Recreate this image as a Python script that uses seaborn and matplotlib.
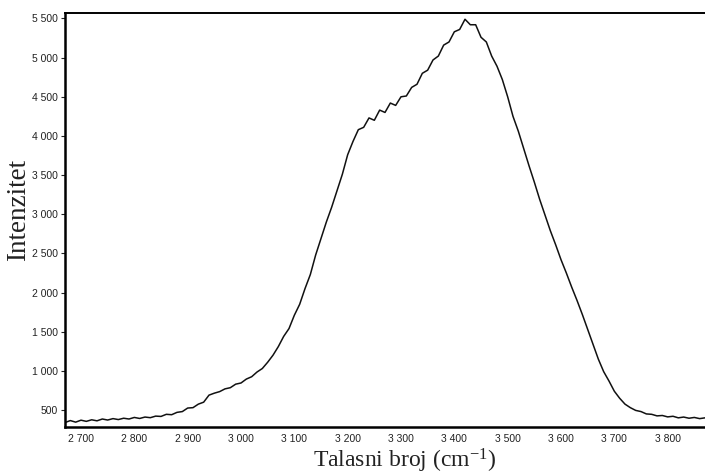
import numpy as np
import pandas as pd
import matplotlib
matplotlib.use("Agg")
import matplotlib.pyplot as plt
from matplotlib.ticker import FuncFormatter
import seaborn as sns

# Data (wavenumber, intensity)
wavenumber = list(range(2670, 3871, 10))
intensity = [
    340, 365, 345, 370, 355, 375, 362, 385, 372, 390,
    378, 395, 385, 405, 392, 410, 402, 422, 418, 445,
    440, 470, 480, 525, 530, 575, 600, 690, 715, 735,
    770, 785, 830, 845, 895, 925, 985, 1030, 1110, 1200,
    1310, 1440, 1540, 1710, 1850, 2050, 2230, 2480, 2690, 2900,
    3090, 3300, 3510, 3760, 3930, 4080, 4110, 4230, 4200, 4330,
    4300, 4420, 4390, 4500, 4510, 4620, 4660, 4800, 4840, 4970,
    5020, 5160, 5200, 5330, 5360, 5490, 5420, 5420, 5260, 5200,
    5020, 4890, 4720, 4500, 4250, 4060, 3840, 3620, 3410, 3190,
    2990, 2790, 2610, 2420, 2250, 2070, 1900, 1720, 1530, 1340,
    1150, 990, 870, 740, 650, 575, 530, 495, 480, 450,
    445, 425, 430, 412, 420, 400, 410, 395, 405, 390,
    400,
]
assert len(wavenumber) == len(intensity)

x_ticks = [2700, 2800, 2900, 3000, 3100, 3200, 3300, 3400, 3500, 3600, 3700, 3800]
y_ticks = [500, 1000, 1500, 2000, 2500, 3000, 3500, 4000, 4500, 5000, 5500]

df = pd.DataFrame({"wavenumber": wavenumber, "intensity": intensity})

sns.set_theme(style="white")
plt.rcParams["font.family"] = ["Liberation Sans", "DejaVu Sans"]
plt.rcParams["mathtext.fontset"] = "custom"
plt.rcParams["mathtext.rm"] = "Liberation Serif"
plt.rcParams["mathtext.it"] = "Liberation Serif:italic"

fig = plt.figure(figsize=(7.05, 4.74), dpi=100)
ax = fig.add_axes([65 / 705, 1 - 427 / 474, 640 / 705, 414 / 474])

sns.lineplot(data=df, x="wavenumber", y="intensity", ax=ax,
             color="#111111", linewidth=1.1)

ax.set_xlim(2670, 3870)
ax.set_ylim(283, 5570)
ax.set_xticks(x_ticks)
ax.set_yticks(y_ticks)

fmt = FuncFormatter(lambda v, p: f"{int(v):,}".replace(",", " "))
ax.xaxis.set_major_formatter(fmt)
ax.yaxis.set_major_formatter(fmt)

ax.tick_params(axis="y", which="major", direction="out", length=3, width=0.8,
               labelsize=7.5, pad=2, left=True, colors="#222222")
ax.tick_params(axis="x", which="major", length=0, labelsize=7.5, pad=5,
               colors="#222222")

for side in ["left", "bottom"]:
    ax.spines[side].set_linewidth(1.8)
    ax.spines[side].set_color("black")
ax.spines["top"].set_linewidth(1.4)
ax.spines["top"].set_color("black")
ax.spines["right"].set_visible(False)

ax.set_xlabel("Talasni broj (cm$^{-1}$)", fontsize=17,
              family=["Liberation Serif", "DejaVu Serif"], color="#222222")
ax.xaxis.set_label_coords((405 - 65) / 640, -0.048)
ax.set_ylabel("Intenzitet", fontsize=19.5,
              family=["Liberation Serif", "DejaVu Serif"], color="#222222")
ax.yaxis.set_label_coords(-0.053, (427 - 209.5) / 414)

ax.grid(False)
fig.savefig("out.png", dpi=100)
